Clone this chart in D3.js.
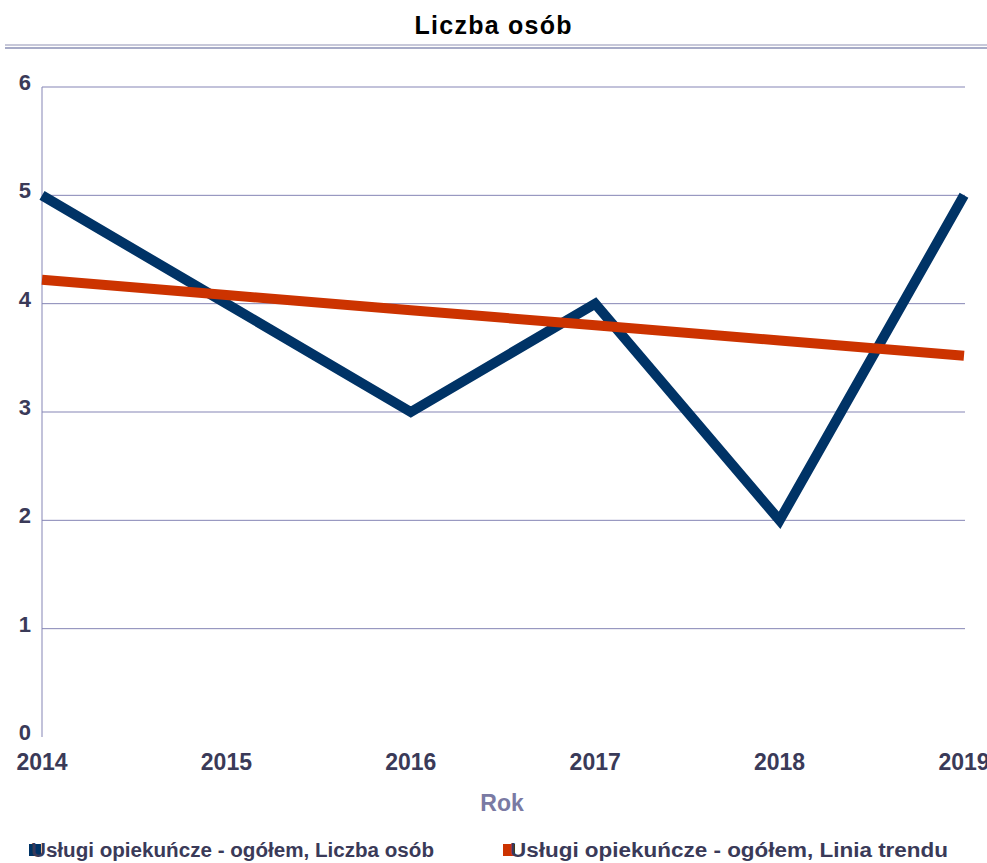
<!DOCTYPE html>
<html><head><meta charset="utf-8">
<script src="https://cdn.jsdelivr.net/npm/d3@7"></script>
<style>body{margin:0;background:#fff}svg{display:block}text{font-family:"Liberation Sans",Arial,sans-serif;font-weight:bold}</style>
</head><body>
<script>
const years = [2014, 2015, 2016, 2017, 2018, 2019];
const persons = [5, 4, 3, 4, 2, 5];
const trend = [4.22, 4.08, 3.94, 3.80, 3.66, 3.52];
const yTicks = [0, 1, 2, 3, 4, 5, 6];
const title = "Liczba osób";
const xTitle = "Rok";
const legendLabels = ["Usługi opiekuńcze - ogółem, Liczba osób", "Usługi opiekuńcze - ogółem, Linia trendu"];

const W = 987, H = 863;
const svg = d3.select("body").append("svg").attr("width", W).attr("height", H);
const x = d3.scaleLinear().domain([2014, 2019]).range([42, 964]);
const y = d3.scaleLinear().domain([0, 6]).range([737, 87]);

svg.append("text").attr("x", 493).attr("y", 34).attr("text-anchor", "middle")
  .attr("font-size", 25).attr("fill", "#000").attr("textLength", 157).text(title);
svg.append("line").attr("x1", 5).attr("x2", W).attr("y1", 45).attr("y2", 45).attr("stroke", "#b4b6cc").attr("stroke-width", 1.5);
svg.append("line").attr("x1", 5).attr("x2", W).attr("y1", 48).attr("y2", 48).attr("stroke", "#8a8fb4").attr("stroke-width", 1.5);

// gridlines
svg.append("g").selectAll("line").data(yTicks.filter(d => d > 0)).join("line")
  .attr("x1", 42).attr("x2", 965).attr("y1", d => y(d)).attr("y2", d => y(d))
  .attr("stroke", "#8585b5").attr("stroke-width", 1);
svg.append("line").attr("x1", 42).attr("x2", 42).attr("y1", y(6)).attr("y2", y(0)).attr("stroke", "#8585b5");

// y labels
svg.append("g").selectAll("text").data(yTicks).join("text")
  .attr("x", 31).attr("y", d => y(d) + 3).attr("text-anchor", "end")
  .attr("font-size", 22).attr("fill", "#3a3a58").text(d => d);
// x labels
svg.append("g").selectAll("text").data(years).join("text")
  .attr("x", d => x(d)).attr("y", 770).attr("text-anchor", "middle")
  .attr("font-size", 23).attr("fill", "#3a3a58").text(d => d);
svg.append("text").attr("x", 502).attr("y", 811).attr("text-anchor", "middle")
  .attr("font-size", 23).attr("fill", "#7a7aa3").text(xTitle);

const line = d3.line().x((d, i) => x(years[i])).y(d => y(d));
svg.append("path").datum(persons).attr("d", line).attr("fill", "none")
  .attr("stroke", "#003366").attr("stroke-width", 10).attr("stroke-linejoin", "miter");
svg.append("path").datum(trend).attr("d", line).attr("fill", "none")
  .attr("stroke", "#cc3300").attr("stroke-width", 10);

// legend
const leg = [{c: "#003366", sx: 29, tx: 31, tl: 403}, {c: "#cc3300", sx: 503, tx: 510, tl: 438}];
leg.forEach((l, i) => {
  svg.append("rect").attr("x", l.sx).attr("y", 844).attr("width", 12).attr("height", 12).attr("fill", l.c);
  svg.append("text").attr("x", l.tx).attr("y", 857).attr("font-size", 20).attr("fill", "#3a3a58")
    .attr("textLength", l.tl).attr("lengthAdjust", "spacingAndGlyphs").text(legendLabels[i]);
});
</script>
</body></html>
